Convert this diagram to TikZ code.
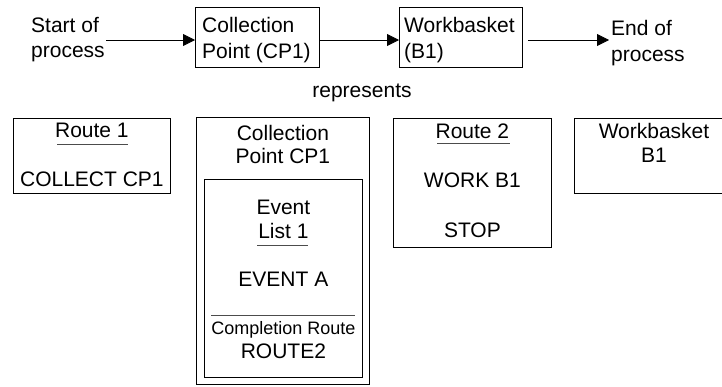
\documentclass[tikz,border=0pt]{standalone}
\usepackage{fontspec}
\setmainfont{Liberation Sans}
\usetikzlibrary{arrows.meta}
\begin{document}
\begin{tikzpicture}[x=1pt,y=-1pt,
  box/.style={draw, line width=0.8pt, rectangle, inner sep=0pt, anchor=north west},
  lbl/.style={inner sep=0pt, font=\fontsize{21}{25}\selectfont},
  lblw/.style={lbl, anchor=base west},
  lblc/.style={lbl, anchor=base},
  small/.style={inner sep=0pt, anchor=base, font=\fontsize{18}{22}\selectfont},
  arr/.style={line width=0.8pt, -{Triangle[length=12pt,width=12pt]}},
  uline/.style={line width=0.8pt, black!70}]
\useasboundingbox (0,0) rectangle (722,386);

% --- process flow ---
\node[lblw] (s1) at (31,32) {Start of};
\node[lblw] (s2) at (31,57) {process};
\node[box, minimum width=124pt, minimum height=60pt] (cp) at (195,7) {};
\node[lblw] (cp1) at (202,32) {Collection};
\node[lblw] (cp2) at (202,58) {Point (CP1)};
\node[box, minimum width=123pt, minimum height=60pt] (wb) at (399,7) {};
\node[lblw] (wb1) at (404,32) {Workbasket};
\node[lblw] (wb2) at (404,58) {(B1)};
\node[lblw] (e1) at (611,35) {End of};
\node[lblw] (e2) at (611,61) {process};

\draw[arr] ([xshift=7pt]s1.east |- 0,40) -- (cp.west |- 0,40);
\draw[arr] (cp.east |- 0,40) -- (wb.west |- 0,40);
\draw[arr] ([xshift=5pt]wb.east |- 0,40) -- ([xshift=-2pt]e1.west |- 0,40);

\node[lblc] (rep) at (362,97) {represents};

% --- Route 1 ---
\node[box, minimum width=157pt, minimum height=75pt] (r1) at (13,118) {};
\node[lblc] (r1t) at (r1.north |- 0,137) {Route 1};
\draw[uline] (57,144) -- (128,144);
\node[lblc] (r1c) at (r1.north |- 0,186) {COLLECT CP1};

% --- Collection point CP1 ---
\node[box, minimum width=173pt, minimum height=267pt] (cpb) at (196,117) {};
\node[lblc] (cpb1) at (cpb.north |- 0,140) {Collection};
\node[lblc] (cpb2) at (cpb.north |- 0,163) {Point CP1};
\node[box, minimum width=158pt, minimum height=198pt] (ev) at (204,179) {};
\node[lblc] (ev1) at (ev.north |- 0,214) {Event};
\node[lblc] (ev2) at (ev.north |- 0,238) {List 1};
\draw[uline] (257,245) -- (308,245);
\node[lblc] (ev3) at (ev.north |- 0,286) {EVENT A};
\draw[uline] (211,315) -- (355,315);
\node[small] (ev4) at (ev.north |- 0,334) {Completion Route};
\node[lblc] (ev5) at (ev.north |- 0,358) {ROUTE2};

% --- Route 2 ---
\node[box, minimum width=158pt, minimum height=129pt] (r2) at (393,118) {};
\node[lblc] (r2t) at (r2.north |- 0,138) {Route 2};
\draw[uline] (437,143) -- (510,143);
\node[lblc] (r2a) at (r2.north |- 0,187) {WORK B1};
\node[lblc] (r2b) at (r2.north |- 0,237) {STOP};

% --- Workbasket B1 (runs past the right edge) ---
\node[box, minimum width=162pt, minimum height=75pt] (b1) at (574,118) {};
\node[lblc] (b1a) at (654,138) {Workbasket};
\node[lblc] (b1b) at (654,162) {B1};
\end{tikzpicture}
\end{document}
